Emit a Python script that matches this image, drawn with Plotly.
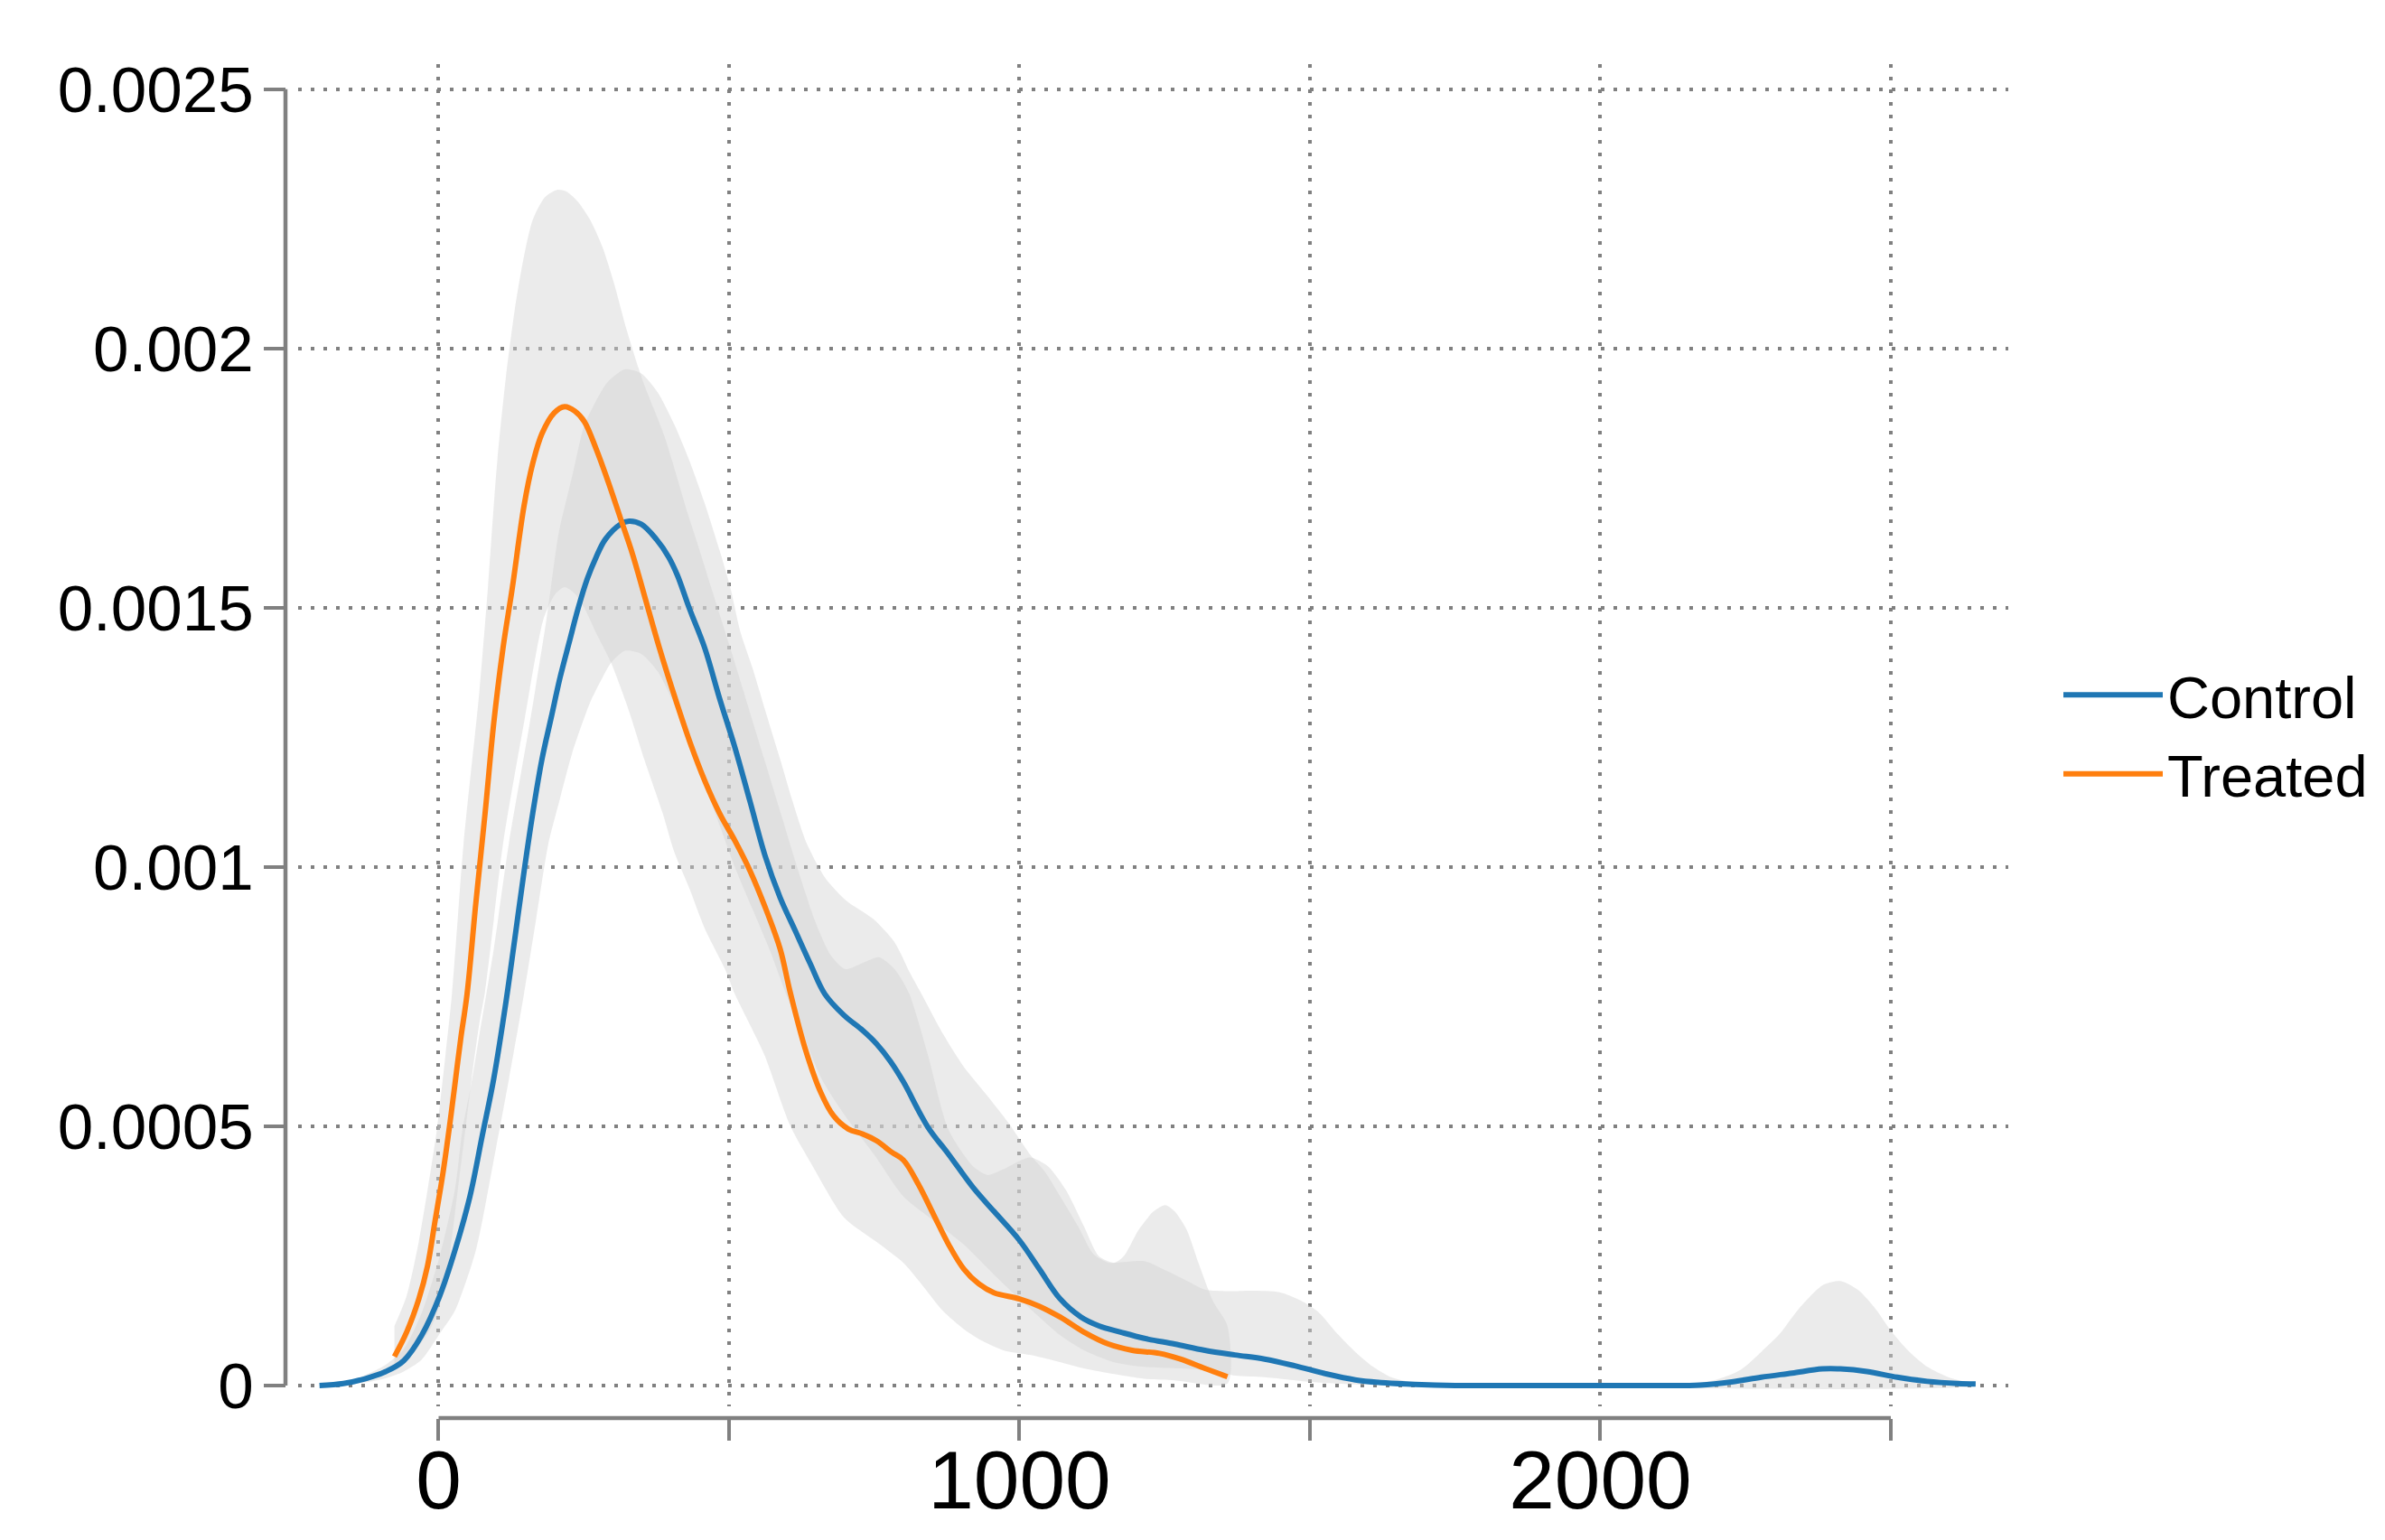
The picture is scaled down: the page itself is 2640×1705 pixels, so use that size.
import plotly.graph_objects as go

# ---------------- data ----------------
control_x = [-205, -164, -127, -91, -60, -29, 2, 28, 54, 75, 95, 116, 131, 147, 162, 178, 194, 209, 225, 240,
             256, 271, 287, 313, 328, 349, 375, 396, 411, 432, 458, 484, 510, 536, 562, 588, 614, 640, 665, 698,
             730, 754, 778, 800, 842, 878, 920, 956, 1000, 1034, 1070, 1106, 1137, 1174, 1215, 1267, 1319, 1371,
             1422, 1474, 1526, 1578, 1630, 1681, 1750, 1900, 2100, 2172, 2226, 2277, 2330, 2382, 2413, 2459,
             2511, 2563, 2615, 2646]
control_y = [0, 4e-6, 1.3e-5, 2.7e-5, 4.8e-5, 9.7e-5, 1.73e-4, 2.6e-4, 3.65e-4, 4.81e-4, 5.92e-4, 7.4e-4,
             8.6e-4, 9.9e-4, 1.103e-3, 1.208e-3, 1.289e-3, 1.365e-3, 1.434e-3, 1.498e-3, 1.556e-3, 1.597e-3,
             1.632e-3, 1.661e-3, 1.667e-3, 1.661e-3, 1.632e-3, 1.598e-3, 1.563e-3, 1.498e-3, 1.423e-3, 1.324e-3,
             1.231e-3, 1.127e-3, 1.022e-3, 9.41e-4, 8.77e-4, 8.13e-4, 7.55e-4, 7.14e-4, 6.85e-4, 6.59e-4,
             6.25e-4, 5.86e-4, 4.99e-4, 4.46e-4, 3.82e-4, 3.36e-4, 2.8e-4, 2.25e-4, 1.67e-4, 1.32e-4, 1.15e-4,
             1.03e-4, 9.1e-5, 8.0e-5, 6.8e-5, 5.9e-5, 5.1e-5, 3.8e-5, 2.3e-5, 1.1e-5, 5e-6, 2e-6, 0, 0, 0,
             1e-6, 7e-6, 1.6e-5, 2.4e-5, 3.2e-5, 3.2e-5, 2.7e-5, 1.6e-5, 8e-6, 4e-6, 3e-6]

treated_x = [-76, -55, -34, -19, -6, 7, 18, 28, 38, 49, 64, 80, 95, 111, 127, 147, 162, 178, 199, 217, 235,
             251, 271, 292, 313, 334, 354, 380, 406, 432, 458, 484, 510, 536, 562, 588, 605, 631, 658, 680,
             705, 730, 754, 780, 800, 826, 852, 878, 904, 930, 956, 1000, 1034, 1070, 1111, 1153, 1194, 1241,
             1277, 1319, 1358]
treated_y = [5.6e-5, 1.03e-4, 1.67e-4, 2.31e-4, 3.18e-4, 4.06e-4, 4.93e-4, 5.8e-4, 6.68e-4, 7.55e-4, 9.29e-4,
             1.103e-3, 1.278e-3, 1.423e-3, 1.539e-3, 1.696e-3, 1.778e-3, 1.836e-3, 1.876e-3, 1.888e-3,
             1.879e-3, 1.859e-3, 1.807e-3, 1.743e-3, 1.673e-3, 1.603e-3, 1.525e-3, 1.423e-3, 1.33e-3,
             1.243e-3, 1.167e-3, 1.103e-3, 1.051e-3, 9.93e-4, 9.23e-4, 8.42e-4, 7.6e-4, 6.5e-4, 5.65e-4,
             5.2e-4, 4.95e-4, 4.85e-4, 4.72e-4, 4.5e-4, 4.35e-4, 3.88e-4, 3.3e-4, 2.72e-4, 2.25e-4, 1.96e-4,
             1.79e-4, 1.67e-4, 1.53e-4, 1.32e-4, 1.03e-4, 8.0e-5, 6.8e-5, 6.2e-5, 5.1e-5, 3.3e-5, 1.7e-5]

# confidence bands
treated_upper_x = [-76, -55, -34, -19, -3, 12, 23, 43, 70, 85, 100, 116, 131, 147, 162, 183, 204, 220, 240,
                   261, 282, 302, 323, 344, 354, 389, 428, 445, 469, 500, 530, 560, 590, 620, 650, 675, 700,
                   730, 758, 785, 810, 842, 878, 920, 946, 972, 1018, 1049, 1080, 1111, 1137, 1163, 1180, 1205,
                   1231, 1251, 1267, 1288, 1308, 1334, 1358]
treated_upper_y = [1.15e-4, 1.73e-4, 2.78e-4, 3.77e-4, 4.93e-4, 6.39e-4, 7.55e-4, 1.045e-3, 1.336e-3, 1.54e-3,
                   1.77e-3, 1.946e-3, 2.074e-3, 2.178e-3, 2.248e-3, 2.292e-3, 2.306e-3, 2.303e-3, 2.283e-3,
                   2.248e-3, 2.196e-3, 2.126e-3, 2.039e-3, 1.963e-3, 1.93e-3, 1.83e-3, 1.685e-3, 1.626e-3,
                   1.54e-3, 1.43e-3, 1.32e-3, 1.21e-3, 1.10e-3, 9.9e-4, 8.9e-4, 8.3e-4, 8.03e-4, 8.15e-4,
                   8.26e-4, 8.03e-4, 7.56e-4, 6.39e-4, 4.93e-4, 4.23e-4, 4.06e-4, 4.17e-4, 4.4e-4, 4.23e-4,
                   3.77e-4, 3.07e-4, 2.49e-4, 2.37e-4, 2.5e-4, 3.0e-4, 3.36e-4, 3.48e-4, 3.36e-4, 3.0e-4,
                   2.37e-4, 1.61e-4, 1.15e-4]
treated_lower_x = [-76, -45, -14, 7, 20, 33, 46, 57, 70, 80, 90, 111, 147, 181, 201, 217, 235, 251, 271, 297,
                   328, 354, 386, 406, 432, 458, 494, 510, 560, 605, 643, 698, 754, 800, 831, 868, 904, 936,
                   972, 1018, 1060, 1111, 1163, 1215, 1267, 1358]
treated_lower_y = [3.0e-5, 6.0e-5, 1.1e-4, 1.73e-4, 2.6e-4, 3.77e-4, 4.93e-4, 5.92e-4, 6.97e-4, 7.6e-4,
                   8.5e-4, 1.045e-3, 1.278e-3, 1.48e-3, 1.527e-3, 1.54e-3, 1.527e-3, 1.5e-3, 1.452e-3,
                   1.394e-3, 1.3e-3, 1.208e-3, 1.103e-3, 1.028e-3, 9.58e-4, 8.82e-4, 8.01e-4, 7.55e-4, 6.4e-4,
                   5.02e-4, 4.25e-4, 3.24e-4, 2.77e-4, 2.37e-4, 1.96e-4, 1.44e-4, 1.09e-4, 8.6e-5, 6.8e-5,
                   5.9e-5, 4.8e-5, 3.3e-5, 2.2e-5, 1.3e-5, 1.0e-5, 4e-6]

control_upper_x = [-205, -164, -127, -91, -60, -29, 2, 28, 41, 56, 69, 95, 121, 157, 186, 204, 209, 230, 251,
                   266, 290, 321, 349, 378, 406, 432, 458, 484, 502, 520, 541, 561, 588, 608, 634, 665, 702,
                   748, 785, 811, 831, 868, 904, 946, 982, 1018, 1044, 1070, 1101, 1127, 1153, 1168, 1215,
                   1246, 1288, 1319, 1358, 1400, 1448, 1484, 1515, 1547, 1578, 1609, 1640, 1671, 1702, 1750,
                   2100, 2195, 2241, 2277, 2309, 2340, 2382, 2413, 2444, 2475, 2500, 2532, 2563, 2599, 2630,
                   2646]
control_upper_y = [0, 6e-6, 2e-5, 4e-5, 7e-5, 1.4e-4, 2.5e-4, 3.77e-4, 4.93e-4, 5.8e-4, 6.68e-4, 8.42e-4,
                   1.045e-3, 1.278e-3, 1.48e-3, 1.626e-3, 1.656e-3, 1.754e-3, 1.853e-3, 1.888e-3, 1.934e-3,
                   1.96e-3, 1.952e-3, 1.914e-3, 1.853e-3, 1.783e-3, 1.702e-3, 1.61e-3, 1.54e-3, 1.452e-3,
                   1.382e-3, 1.307e-3, 1.208e-3, 1.132e-3, 1.045e-3, 9.8e-4, 9.35e-4, 9.0e-4, 8.55e-4,
                   7.97e-4, 7.56e-4, 6.79e-4, 6.15e-4, 5.57e-4, 5.05e-4, 4.46e-4, 4.12e-4, 3.65e-4, 3.07e-4,
                   2.54e-4, 2.37e-4, 2.37e-4, 2.4e-4, 2.25e-4, 2.02e-4, 1.85e-4, 1.82e-4, 1.83e-4, 1.8e-4,
                   1.64e-4, 1.41e-4, 1.0e-4, 6.5e-5, 3.6e-5, 1.6e-5, 7e-6, 2e-6, 0, 0, 1e-5, 3e-5, 6.5e-5,
                   1.0e-4, 1.46e-4, 1.93e-4, 2.015e-4, 1.84e-4, 1.46e-4, 1.06e-4, 6.5e-5, 3.6e-5, 1.6e-5,
                   7e-6, 4e-6]
control_lower_x = [-205, -164, -127, -91, -60, -29, 2, 28, 64, 95, 121, 147, 168, 189, 209, 230, 261, 282,
                   297, 321, 349, 378, 406, 432, 458, 484, 510, 540, 570, 600, 630, 660, 700, 750, 800, 852,
                   904, 956, 1000, 1034, 1070, 1111, 1163, 1215, 1319, 1371, 1422, 1500, 1578, 1650, 2646]
control_lower_y = [0, 1e-6, 6e-6, 1.4e-5, 2.7e-5, 5e-5, 1.0e-4, 1.44e-4, 2.6e-4, 4.35e-4, 5.9e-4, 7.55e-4,
                   9.0e-4, 1.045e-3, 1.132e-3, 1.22e-3, 1.318e-3, 1.365e-3, 1.394e-3, 1.417e-3, 1.411e-3,
                   1.376e-3, 1.312e-3, 1.24e-3, 1.16e-3, 1.08e-3, 1.0e-3, 9.2e-4, 8.4e-4, 7.5e-4, 6.7e-4,
                   5.9e-4, 5.2e-4, 4.45e-4, 3.65e-4, 3.18e-4, 2.72e-4, 2.14e-4, 1.67e-4, 1.32e-4, 9.7e-5,
                   6.8e-5, 4.5e-5, 3.6e-5, 3.0e-5, 1.9e-5, 1.6e-5, 7e-6, 2e-6, 0, 0]

x_tickvals = [0, 500, 1000, 1500, 2000, 2500]
x_ticktext = ["0", "", "1000", "", "2000", ""]
y_tickvals = [0, 0.0005, 0.001, 0.0015, 0.002, 0.0025]
y_ticktext = ["0", "0.0005", "0.001", "0.0015", "0.002", "0.0025"]
series_names = ["Control", "Treated"]

# ---------------- styling ----------------
BLUE = "#1f77b4"
ORANGE = "#ff7f0e"
BAND = "rgba(210,210,210,0.45)"
GREY = "#808080"
FONT = "Liberation Sans, Arial, Helvetica, sans-serif"

W, H = 2640, 1705
PAGE_OFF = 8  # the html page body adds an 8px offset
ML, MR, MT, MB = 316 - PAGE_OFF, 417 + PAGE_OFF, 71 - PAGE_OFF, 135 + PAGE_OFF
PW, PH = W - ML - MR, H - MT - MB

fig = go.Figure()


def band(ux, uy, lx, ly):
    return go.Scatter(x=list(ux) + list(reversed(lx)), y=list(uy) + list(reversed(ly)),
                      fill="toself", fillcolor=BAND, mode="lines",
                      line=dict(width=0, shape="spline", smoothing=0.7),
                      hoverinfo="skip", showlegend=False)


fig.add_trace(band(control_upper_x, control_upper_y, control_lower_x, control_lower_y))
fig.add_trace(band(treated_upper_x, treated_upper_y, treated_lower_x, treated_lower_y))

fig.add_trace(go.Scatter(x=control_x, y=control_y, mode="lines", name=series_names[0],
                         line=dict(color=BLUE, width=6, shape="spline", smoothing=1.0)))
fig.add_trace(go.Scatter(x=treated_x, y=treated_y, mode="lines", name=series_names[1],
                         line=dict(color=ORANGE, width=6, shape="spline", smoothing=1.0)))

axis_common = dict(showline=False, zeroline=False, showgrid=True, gridcolor=GREY, gridwidth=3.5,
                   griddash="3.5px,10.5px", ticks="outside", ticklen=24, tickwidth=4, tickcolor=GREY,
                   tickmode="array", anchor="free", position=0, automargin=False)

fig.update_layout(
    width=W, height=H,
    margin=dict(l=ML, r=MR, t=MT, b=MB, pad=0, autoexpand=False),
    paper_bgcolor="white", plot_bgcolor="white",
    font=dict(family=FONT, color="black"),
    xaxis=dict(axis_common, domain=[14 / PW, 1], range=[-241.8, 2702.2],
               tickvals=x_tickvals, ticktext=x_ticktext, tickfont=dict(size=91),
               ticklabelstandoff=-34),
    yaxis=dict(axis_common, domain=[13 / PH, 1], range=[-0.0000401, 0.0025485],
               tickvals=y_tickvals, ticktext=y_ticktext, tickfont=dict(size=71),
               ticklabelstandoff=-3),
    legend=dict(x=(2279 - PAGE_OFF - ML) / PW, xanchor="left",
                y=(H - MB - (813 - PAGE_OFF)) / PH, yanchor="middle",
                font=dict(size=65), itemwidth=110, bgcolor="rgba(0,0,0,0)", borderwidth=0),
    showlegend=True,
)

# range-frame axis lines (span only the tick range)
fig.add_shape(type="line", xref="paper", yref="y", x0=0, x1=0,
              y0=y_tickvals[0], y1=y_tickvals[-1], line=dict(color=GREY, width=4.5))
fig.add_shape(type="line", xref="x", yref="paper", y0=0, y1=0,
              x0=x_tickvals[0], x1=x_tickvals[-1], line=dict(color=GREY, width=4.5))

fig.write_html("out.html")
